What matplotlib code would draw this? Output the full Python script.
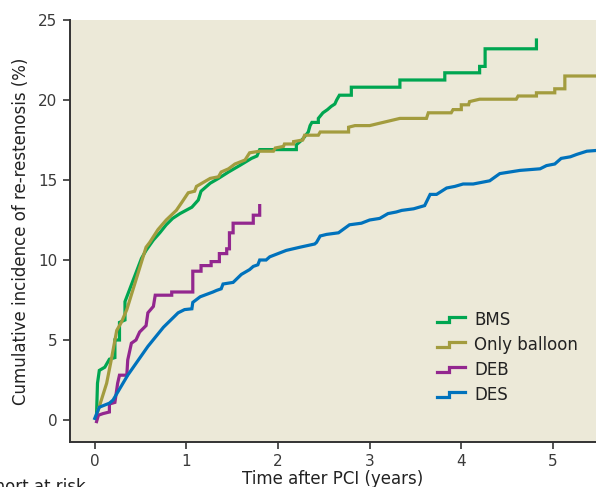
import numpy as np
import matplotlib
matplotlib.use('Agg')
import matplotlib.pyplot as plt
from matplotlib.legend_handler import HandlerBase
from matplotlib.lines import Line2D

# ─── data (years, cumulative %) ───

bms_t = [0.02, 0.03, 0.05, 0.11, 0.16, 0.22, 0.22, 0.27, 0.27, 0.33, 0.33, 0.51, 0.56,
         0.64, 0.71, 0.78, 0.85, 0.93, 1.06, 1.13, 1.16, 1.26, 1.35, 1.46, 1.58, 1.71,
         1.77, 1.80, 2.20, 2.20, 2.26, 2.29, 2.33, 2.35, 2.37, 2.44, 2.44, 2.49, 2.54,
         2.58, 2.62, 2.64, 2.67, 2.80, 2.80, 3.33, 3.33, 3.82, 3.82, 4.20, 4.20, 4.26,
         4.26, 4.82, 4.82]
bms_y = [0.4, 2.3, 3.1, 3.3, 3.8, 3.9, 5.0, 5.0, 6.1, 6.25, 7.4, 10.1, 10.6,
         11.25, 11.7, 12.2, 12.6, 12.9, 13.3, 13.75, 14.3, 14.8, 15.1, 15.5, 15.9, 16.35,
         16.5, 16.9, 16.9, 17.2, 17.5, 17.7, 18.0, 18.4, 18.6, 18.6, 18.85, 19.2, 19.4,
         19.6, 19.75, 20.0, 20.3, 20.3, 20.8, 20.8, 21.25, 21.25, 21.7, 21.7, 22.1, 22.1,
         23.2, 23.2, 23.75]

bal_t = [0.02, 0.13, 0.18, 0.24, 0.29, 0.35, 0.56, 0.60, 0.69, 0.78, 0.89, 0.95, 1.02,
         1.09, 1.11, 1.26, 1.35, 1.38, 1.46, 1.53, 1.64, 1.69, 1.80, 1.95, 1.97, 2.06,
         2.07, 2.17, 2.17, 2.27, 2.29, 2.44, 2.46, 2.77, 2.77, 2.84, 3.00, 3.33, 3.62,
         3.64, 3.89, 3.91, 4.00, 4.00, 4.08, 4.09, 4.20, 4.60, 4.62, 4.82, 4.82, 5.02,
         5.02, 5.13, 5.13, 5.60]
bal_y = [0.3, 2.3, 3.75, 5.6, 6.1, 6.9, 10.8, 11.1, 11.9, 12.5, 13.1, 13.6, 14.2,
         14.3, 14.6, 15.1, 15.2, 15.5, 15.7, 16.0, 16.25, 16.7, 16.8, 16.8, 17.0, 17.1,
         17.25, 17.25, 17.4, 17.5, 17.8, 17.8, 18.0, 18.0, 18.3, 18.4, 18.4, 18.85, 18.85,
         19.2, 19.2, 19.4, 19.4, 19.7, 19.7, 19.9, 20.05, 20.05, 20.25, 20.25, 20.45, 20.45,
         20.7, 20.7, 21.5, 21.5]

deb_t = [0.02, 0.04, 0.09, 0.16, 0.16, 0.22, 0.24, 0.25, 0.27, 0.35, 0.36, 0.40, 0.45,
         0.49, 0.56, 0.58, 0.64, 0.66, 0.84, 0.84, 1.07, 1.07, 1.16, 1.16, 1.27, 1.27,
         1.36, 1.36, 1.44, 1.44, 1.47, 1.47, 1.51, 1.51, 1.73, 1.73, 1.80, 1.80]
deb_y = [-0.1, 0.3, 0.4, 0.5, 1.0, 1.1, 1.9, 2.3, 2.8, 2.8, 3.75, 4.8, 5.0,
         5.5, 5.9, 6.7, 7.1, 7.8, 7.8, 8.0, 8.0, 9.3, 9.3, 9.65, 9.65, 9.9,
         9.9, 10.4, 10.4, 10.7, 10.7, 11.7, 11.7, 12.3, 12.3, 12.8, 12.8, 13.4]

des_t = [0.0, 0.05, 0.16, 0.20, 0.36, 0.58, 0.75, 0.91, 0.98, 1.06, 1.07, 1.15, 1.29,
         1.33, 1.38, 1.40, 1.51, 1.60, 1.69, 1.73, 1.78, 1.80, 1.87, 1.91, 2.09, 2.24,
         2.40, 2.42, 2.46, 2.53, 2.66, 2.78, 2.91, 3.00, 3.11, 3.20, 3.29, 3.35, 3.48,
         3.60, 3.66, 3.73, 3.84, 3.93, 4.02, 4.13, 4.31, 4.42, 4.53, 4.64, 4.86, 4.93,
         5.02, 5.09, 5.19, 5.26, 5.37, 5.60]
des_y = [0.1, 0.8, 1.05, 1.25, 2.8, 4.6, 5.8, 6.7, 6.9, 6.95, 7.35, 7.7, 8.0,
         8.1, 8.2, 8.5, 8.6, 9.1, 9.4, 9.6, 9.7, 10.0, 10.0, 10.2, 10.6, 10.8,
         11.0, 11.1, 11.5, 11.6, 11.7, 12.2, 12.3, 12.5, 12.6, 12.9, 13.0, 13.1, 13.2,
         13.4, 14.1, 14.1, 14.5, 14.6, 14.75, 14.75, 14.95, 15.4, 15.5, 15.6, 15.7, 15.9,
         16.0, 16.35, 16.45, 16.6, 16.8, 16.9]

labels = ["BMS", "Only balloon", "DEB", "DES"]
colors = ['#00A651', '#A39C3E', '#93278F', '#0072BC']
xticks = [0, 1, 2, 3, 4, 5]
yticks = [0, 5, 10, 15, 20, 25]


class StepHandler(HandlerBase):
    # little step glyph like in the original legend
    def create_artists(self, legend, orig, xd, yd, w, h, fs, trans):
        xs = [0, 0.42 * w, 0.42 * w, w]
        ys = [0.2 * h, 0.2 * h, 0.65 * h, 0.65 * h]
        ln = Line2D(np.array(xs) - xd, np.array(ys) - yd, color=orig.get_color(),
                    lw=orig.get_linewidth(), solid_joinstyle='miter')
        ln.set_transform(trans)
        return [ln]


fig = plt.figure(figsize=(5.96, 4.87), dpi=100)
ax = fig.add_axes([70 / 596, 1 - 442 / 487, 526 / 596, 422 / 487])
ax.set_facecolor('#ECE9D8')

lines = []
for t, y, c in zip([bms_t, bal_t, deb_t, des_t], [bms_y, bal_y, deb_y, des_y], colors):
    ln, = ax.plot(t, y, color=c, lw=2.3, solid_joinstyle='miter')
    lines.append(ln)

ax.set_xlim(-0.27, 5.47)
ax.set_ylim(-1.375, 25)
ax.set_xticks(xticks)
ax.set_yticks(yticks)

for s in ['top', 'right']:
    ax.spines[s].set_visible(False)
for s in ['left', 'bottom']:
    ax.spines[s].set_color('#333333')
    ax.spines[s].set_linewidth(1.4)

ax.tick_params(direction='out', length=5, width=1.2, color='#333333', pad=4)
for lab in ax.get_xticklabels() + ax.get_yticklabels():
    lab.set_fontfamily(['Liberation Sans Narrow', 'DejaVu Sans'])
    lab.set_fontsize(11)
    lab.set_color('#3a3a3a')

ax.set_ylabel("Cumulative incidence of re-restenosis (%)", fontsize=12,
              color='#222222', labelpad=6)
ax.set_xlabel("Time after PCI (years)", fontsize=12, color='#222222', labelpad=0)

ax.legend(lines, labels, handler_map={ln: StepHandler() for ln in lines},
          loc='lower right', bbox_to_anchor=(0.995, 0.055), frameon=False,
          fontsize=12, handlelength=1.7, handletextpad=0.55, labelspacing=0.42,
          labelcolor='#222222')

# row header of the (cropped) risk table below the plot
fig.text(-0.045, 0.018, "Cohort at risk", fontsize=12, color='#222222', va='top')

fig.savefig("out.png", dpi=100)
print("ok")
